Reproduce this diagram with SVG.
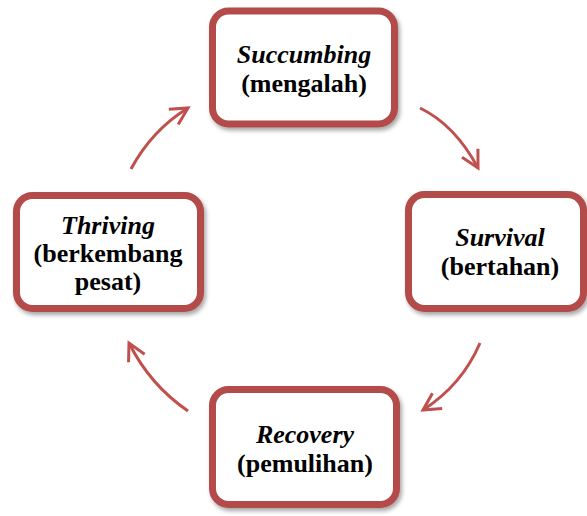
<svg xmlns="http://www.w3.org/2000/svg" width="587" height="516" viewBox="0 0 587 516">
<style>
.box{fill:#fff;stroke:#B24C4A;stroke-width:7;filter:url(#sh)}
.t{font-weight:bold;font-size:26px;text-anchor:middle;fill:#000}
.i{font-style:italic}
.arr{fill:none;stroke:#C0504D;stroke-width:3;marker-end:url(#ah)}
</style>
<defs>
<filter id="sh" x="-10%" y="-10%" width="125%" height="130%">
<feDropShadow dx="2" dy="3" stdDeviation="2" flood-color="#000" flood-opacity="0.35"/>
</filter>
<marker id="ah" markerUnits="userSpaceOnUse" viewBox="-22 -14 26 28" markerWidth="26" markerHeight="28" refX="0" refY="0" orient="auto">
<path d="M-17,-9 L0,0 L-17,9" fill="none" stroke="#C0504D" stroke-width="3"/>
</marker>
</defs>
<g id="connectors">
<path class="arr" d="M420,108 Q455,125 478,168"/>
<path class="arr" d="M480,343 Q462,385 423,410"/>
<path class="arr" d="M188,411 Q150,385 129,343"/>
<path class="arr" d="M131,169 Q152,130 188,108"/>
</g>
<g font-family="Liberation Serif, Tinos, Times New Roman, Noto Serif, DejaVu Serif, serif">
<g id="succumbing">
<rect class="box" x="212.5" y="11" width="182" height="113" rx="16"/>
<text class="t i" x="304" y="63">Succumbing</text>
<text class="t" x="304" y="92">(mengalah)</text>
</g>
<g id="survival">
<rect class="box" x="408.5" y="194.5" width="175" height="114" rx="16"/>
<text class="t i" x="500" y="246">Survival</text>
<text class="t" x="500" y="275">(bertahan)</text>
</g>
<g id="recovery">
<rect class="box" x="212.5" y="389.5" width="184" height="115" rx="16"/>
<text class="t i" x="305" y="443">Recovery</text>
<text class="t" x="305" y="472">(pemulihan)</text>
</g>
<g id="thriving">
<rect class="box" x="16.5" y="195.5" width="184" height="113" rx="16"/>
<text class="t i" x="108" y="234">Thriving</text>
<text class="t" x="108" y="262">(berkembang</text>
<text class="t" x="108" y="290">pesat)</text>
</g>
</g>
</svg>
